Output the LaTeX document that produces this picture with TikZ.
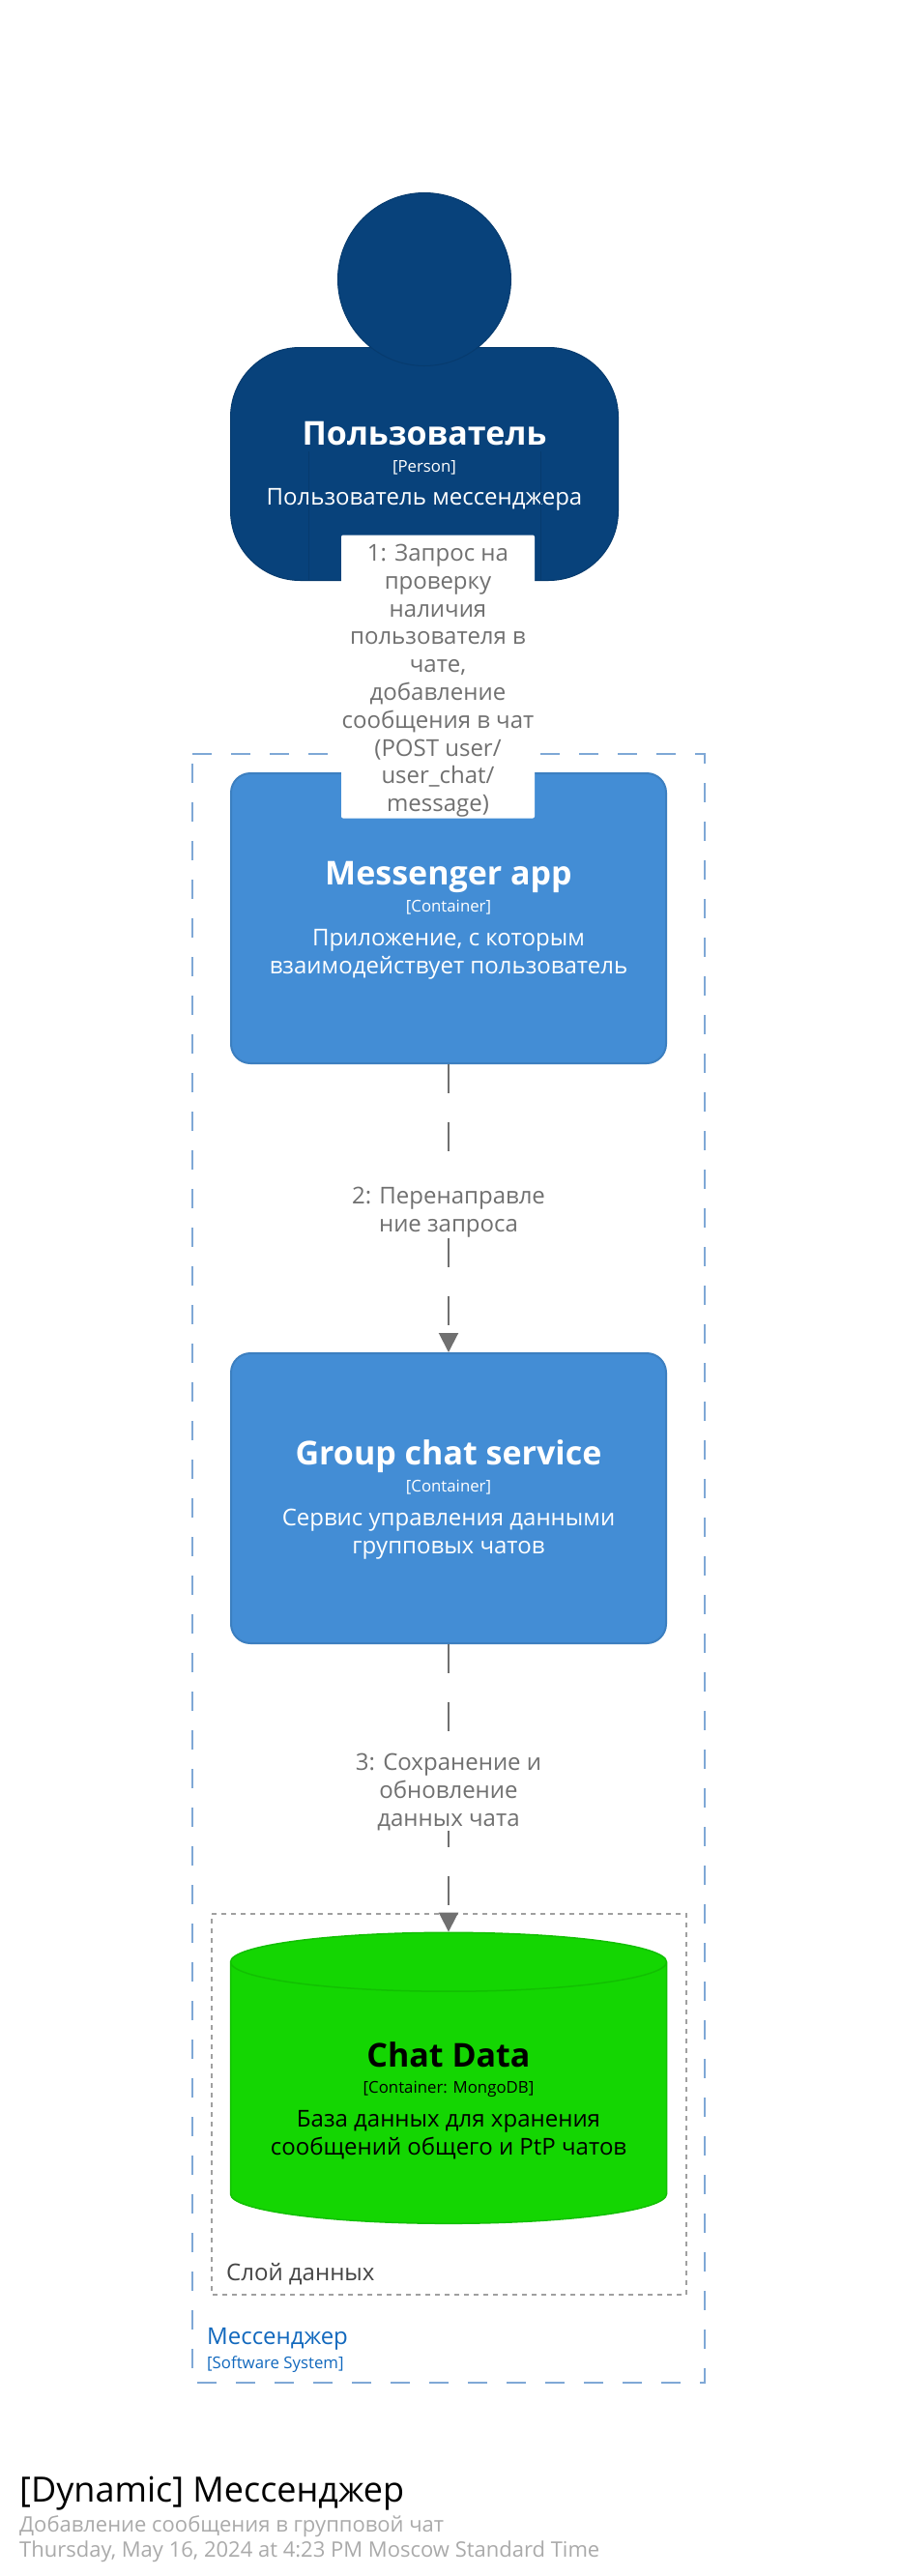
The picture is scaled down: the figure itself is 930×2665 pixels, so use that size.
\documentclass[tikz,border=0pt]{standalone}
\usepackage{xcolor}
\usepackage{fontspec}
\setmainfont{Open Sans}
\usetikzlibrary{arrows.meta}
\usetikzlibrary{positioning}
\usetikzlibrary{shapes.geometric}
\definecolor{personblue}{HTML}{08427B}
\definecolor{personedge}{HTML}{073B6E}
\definecolor{appblue}{HTML}{438DD5}
\definecolor{appedge}{HTML}{3C7FC0}
\definecolor{dbgreen}{HTML}{14D602}
\definecolor{dbedge}{HTML}{12C002}
\definecolor{relgray}{HTML}{707070}
\definecolor{systemdash}{HTML}{7FA8D6}
\definecolor{systemtext}{HTML}{1168BD}
\definecolor{layerdash}{HTML}{A0A0A0}
\definecolor{layertext}{HTML}{444444}
\definecolor{metagray}{HTML}{AAAAAA}
\newcommand{\toplift}{\rule{0pt}{36pt}}
\newcommand{\labellift}{\rule{0pt}{26pt}}
\newcommand{\cardtext}[3]{\rule{0pt}{29pt}{\fontsize{34}{34}\selectfont\bfseries #1}\\[-1pt]{\fontsize{16.8}{16.8}\selectfont #2}\\[6pt]#3}
\begin{document}
\begin{tikzpicture}[x=1pt,y=-1pt,on grid,
      basetext/.style={font=\fontsize{24}{28.8}\selectfont,align=center},
      body/.style={basetext,draw=personedge,fill=personblue,text=white,line width=1pt,
         rounded corners=72pt,minimum width=401pt,minimum height=241pt},
      head/.style={draw=personedge,fill=personblue,line width=1pt,circle,minimum size=179pt,inner sep=0pt},
      card/.style={basetext,draw=appedge,fill=appblue,text=white,line width=2pt,
         rounded corners=20pt,minimum width=450pt,minimum height=300pt},
      store/.style={basetext,draw=dbedge,fill=dbgreen,text=black,line width=1.5pt,cylinder,
         shape border rotate=90,aspect=.1625,minimum width=451pt,minimum height=301pt},
      rel/.style={draw=relgray,line width=2pt,dash pattern=on 30pt off 30pt,
         -{Triangle[length=20pt,width=20pt]},relgray},
      rellabel/.style={basetext,fill=white,text=relgray,rounded corners=2pt,inner sep=0pt},
      plain/.style={inner sep=0pt,anchor=west}]
   \useasboundingbox (0,0) rectangle (930,2665);
   \draw[systemdash,line width=2pt,dash pattern=on 20pt off 20pt] (199,780) -- (729,780) -- (729,2465) -- (199,2465) -- cycle;
   \draw[layerdash,line width=2pt,dash pattern=on 5pt off 5pt] (219,1980) -- (710,1980) -- (710,2374) -- (219,2374) -- cycle;
   \node[body] (person) at (439,480) {\cardtext{Пользователь}{[Person]}{Пользователь мессенджера}};
   \draw[personedge,line width=1pt] (319,467) -- (person.south -| 319,0);
   \draw[personedge,line width=1pt] (559,467) -- (person.south -| 559,0);
   \node[head] (head) at (439,289) {};
   \node[card] (app) at (464,950) {\cardtext{Messenger app}{[Container]}{Приложение, с которым\\взаимодействует пользователь}};
   \node[card] (groupchat) [below=600pt of app] {\cardtext{Group chat service}{[Container]}{Сервис управления данными\\групповых чатов}};
   \node[store] (chatdata) [below=618pt of groupchat] {\toplift\cardtext{Chat Data}{[Container: MongoDB]}{База данных для хранения\\сообщений общего и PtP чатов}};
   \draw[rel] (person.south) -- node[rellabel,xshift=1.5pt,minimum width=200pt,minimum height=293pt] (requestlabel) {\labellift 1: Запрос на\\проверку\\наличия\\пользователя в\\чате,\\добавление\\сообщения в чат\\(POST user/\\user\_chat/\\message)} (app.north);
   \draw[rel] (app.south) -- node[rellabel,minimum height=59pt] (forwardlabel) {\labellift 2: Перенаправле\\ние запроса} (groupchat.north);
   \draw[rel] (groupchat.south) -- node[rellabel,minimum height=88pt] (savelabel) {\labellift 3: Сохранение и\\обновление\\данных чата} (chatdata.top);
   \node[plain,font=\fontsize{24}{29}\selectfont,text=layertext] (layername) at (234,2353) {Слой данных};
   \node[plain,font=\fontsize{24}{29}\selectfont,text=systemtext] (systemname) at (214,2420) {Мессенджер};
   \node[plain,font=\fontsize{16.8}{20}\selectfont,text=systemtext] (systemtag) at (214,2446) {[Software System]};
   \node[plain,font=\fontsize{36}{44}\selectfont] (diagramtitle) at (20,2580) {[Dynamic] Мессенджер};
   \node[plain,font=\fontsize{22}{27}\selectfont,text=metagray] (diagramkey) at (20,2614) {Добавление сообщения в групповой чат};
   \node[plain,font=\fontsize{22}{27}\selectfont,text=metagray] (diagramdate) at (20,2640) {Thursday, May 16, 2024 at 4:23 PM Moscow Standard Time};
\end{tikzpicture}
\end{document}
